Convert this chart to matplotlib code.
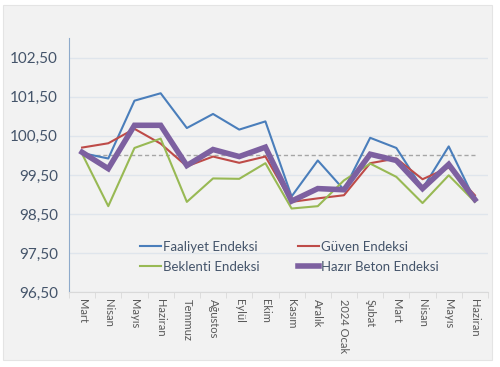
import matplotlib.pyplot as plt
from matplotlib.patches import Rectangle

months = ["Mart", "Nisan", "Mayıs", "Haziran", "Temmuz", "Ağustos", "Eylül", "Ekim",
          "Kasım", "Aralık", "2024 Ocak", "Şubat", "Mart", "Nisan", "Mayıs", "Haziran"]

faaliyet = [100.06, 99.92, 101.40, 101.59, 100.70, 101.06, 100.66, 100.87,
            98.95, 99.87, 99.12, 100.45, 100.19, 99.15, 100.23, 98.85]
guven = [100.20, 100.31, 100.68, 100.30, 99.72, 99.97, 99.81, 99.97,
         98.81, 98.90, 98.98, 99.80, 99.92, 99.39, 99.69, 98.98]
beklenti = [100.04, 98.70, 100.19, 100.43, 98.81, 99.41, 99.40, 99.80,
            98.64, 98.70, 99.36, 99.79, 99.45, 98.78, 99.49, 98.81]
hazir_beton = [100.08, 99.66, 100.77, 100.77, 99.74, 100.15, 99.97, 100.21,
               98.83, 99.15, 99.12, 100.03, 99.87, 99.15, 99.77, 98.87]

yticks = [96.5, 97.5, 98.5, 99.5, 100.5, 101.5, 102.5]

plt.rcParams['font.family'] = ['Lato', 'DejaVu Sans']

fig = plt.figure(figsize=(5.0, 3.67), dpi=100)
fig.patch.set_facecolor('white')
# grey chart area with thin border
fig.patches.append(Rectangle((0.006, 0.019), 0.978, 0.967, transform=fig.transFigure,
                             facecolor='#f2f2f2', edgecolor='#e4e4e4', lw=0.8, zorder=-1))

ax = fig.add_axes([0.138, 0.204, 0.838, 0.692])
ax.set_facecolor('#f2f2f2')

x = range(len(months))
ax.hlines(100, 0, len(months) - 1, colors='#a6a6a6', linestyles=(0, (3, 2)), lw=1.0, zorder=1)
l1, = ax.plot(x, faaliyet, color='#4a7ebb', lw=1.5, label='Faaliyet Endeksi', zorder=3)
l2, = ax.plot(x, guven, color='#be4b48', lw=1.5, label='Güven Endeksi', zorder=3)
l3, = ax.plot(x, beklenti, color='#98b954', lw=1.5, label='Beklenti Endeksi', zorder=3)
l4, = ax.plot(x, hazir_beton, color='#7d60a0', lw=4.0, label='Hazır Beton Endeksi', zorder=4,
              solid_joinstyle='miter')

ax.set_xlim(-0.5, len(months) - 0.5)
ax.set_ylim(96.5, 103.0)
ax.set_yticks(yticks)
ax.set_yticklabels([f"{v:.2f}".replace('.', ',') for v in yticks], fontsize=11, color='#44546a')
ax.tick_params(axis='y', length=0, pad=8)
ax.grid(axis='y', color='#dfe5ec', lw=1.0, zorder=0)

ax.set_xticks(list(x))
ax.set_xticklabels(months, rotation=270, fontsize=8, color='#595959', va='top', ha='center')
ax.set_xticks([i + 0.5 for i in range(-1, len(months))], minor=True)
ax.tick_params(axis='x', which='major', length=0, pad=5)
ax.tick_params(axis='x', which='minor', length=4, color='#d9d9d9')

for s in ['top', 'right']:
    ax.spines[s].set_visible(False)
ax.spines['left'].set_color('#8eaacb')
ax.spines['bottom'].set_color('#d9d9d9')

# column 1: Faaliyet, Beklenti; column 2: Güven, Hazır Beton
ax.legend([l1, l3, l2, l4], [h.get_label() for h in (l1, l3, l2, l4)],
          ncol=2, loc='lower left', bbox_to_anchor=(0.14, 0.03), frameon=False,
          fontsize=9.5, handlelength=1.6, handletextpad=0.15, columnspacing=2.9,
          labelspacing=0.6, labelcolor='#44546a')

fig.savefig('out.png', dpi=100, facecolor=fig.get_facecolor())
